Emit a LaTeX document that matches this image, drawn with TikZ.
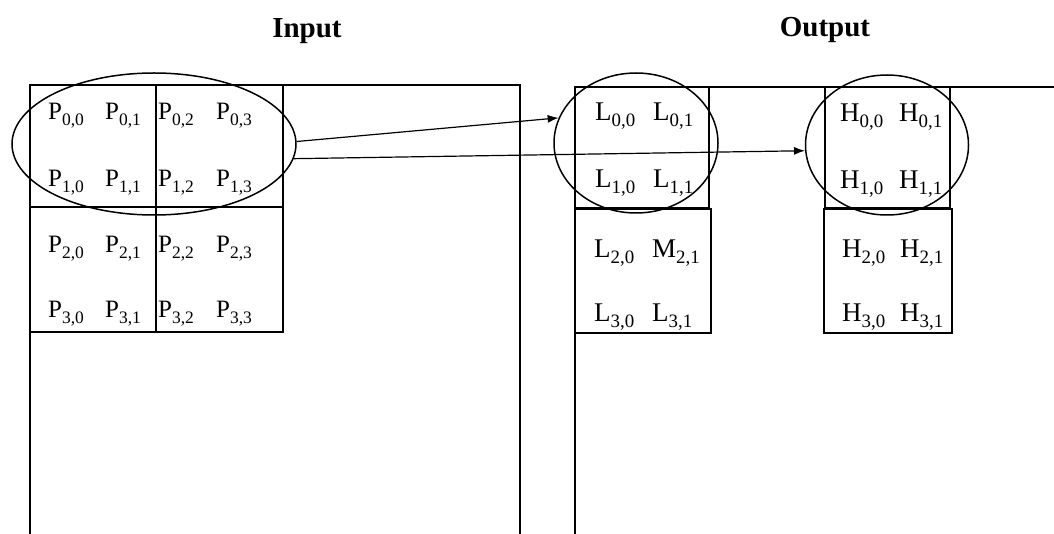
\documentclass[tikz,border=0pt]{standalone}
\usepackage{fontspec}
\setmainfont{Liberation Serif}
\usetikzlibrary{shapes.geometric,arrows.meta}

% coefficient label with a lowered, reduced index
\newcommand{\cf}[2]{#1\raisebox{-0.22em}{\scalebox{0.7}{#2}}}

\begin{document}
\begin{tikzpicture}[x=1pt,y=-1pt,
  frame/.style={line width=1.2pt},
  thickedge/.style={line width=2.6pt},
  pl/.style={anchor=base west,inner sep=0pt,font=\fontsize{25}{25}\selectfont},
  ol/.style={anchor=base west,inner sep=0pt,font=\fontsize{27}{27}\selectfont},
  title/.style={anchor=base,inner sep=0pt,font=\fontsize{29}{29}\selectfont\bfseries},
  ring/.style={ellipse,draw,line width=1.5pt,inner sep=0pt},
  link/.style={line width=1.2pt,-{Latex[length=11pt,width=8pt]}}]
\useasboundingbox (0,0) rectangle (1054,534);

% titles
\node[title] (tin)  at (307,38) {Input};
\node[title] (tout) at (825,37) {Output};

% input image frame
\draw[frame] (30,534) -- (30,85) -- (520,85) -- (520,534);
% input 4x4 block
\draw[frame] (156,85) -- (156,332);
\draw[frame] (30,207) -- (283,207);
\draw[frame] (283,85) -- (283,332) -- (30,332);
\draw[thickedge] (30,85) -- (30,332);

% output image frame
\draw[frame] (575,534) -- (575,87) -- (1054,87);
% low-pass blocks
\draw[frame] (575,87) rectangle (709,208);
\draw[frame] (575,209) rectangle (711,333);
\draw[thickedge] (575,87) -- (575,333);
% high-pass blocks
\draw[frame] (825,87) rectangle (950,208);
\draw[frame] (824,209) rectangle (952,333);

% input pixels
\foreach \r/\y in {0/120,1/187,2/253,3/318}{
  \node[pl] (p\r0) at (48,\y)  {\cf{P}{\r,0}};
  \node[pl] (p\r1) at (105,\y) {\cf{P}{\r,1}};
  \node[pl] (p\r2) at (158,\y) {\cf{P}{\r,2}};
  \node[pl] (p\r3) at (216,\y) {\cf{P}{\r,3}};
}

% low-pass coefficients
\node[ol] (l00) at (595,121) {\cf{L}{0,0}};
\node[ol] (l01) at (653,121) {\cf{L}{0,1}};
\node[ol] (l10) at (595,188) {\cf{L}{1,0}};
\node[ol] (l11) at (653,188) {\cf{L}{1,1}};
\node[ol] (l20) at (594,258) {\cf{L}{2,0}};
\node[ol] (m21) at (652,258) {\cf{M}{2,1}};
\node[ol] (l30) at (594,322) {\cf{L}{3,0}};
\node[ol] (l31) at (652,322) {\cf{L}{3,1}};

% high-pass coefficients
\node[ol] (h00) at (840,122) {\cf{H}{0,0}};
\node[ol] (h01) at (899,122) {\cf{H}{0,1}};
\node[ol] (h10) at (840,189) {\cf{H}{1,0}};
\node[ol] (h11) at (899,189) {\cf{H}{1,1}};
\node[ol] (h20) at (842,258) {\cf{H}{2,0}};
\node[ol] (h21) at (900,258) {\cf{H}{2,1}};
\node[ol] (h30) at (842,322) {\cf{H}{3,0}};
\node[ol] (h31) at (900,322) {\cf{H}{3,1}};

% groupings
\node[ring,minimum width=284pt,minimum height=142pt] (pe) at (154,144) {};
\node[ring,minimum width=164pt,minimum height=140pt] (le) at (636,143) {};
\node[ring,minimum width=163pt,minimum height=140pt] (he) at (887,145) {};

% transform arrows
\draw[link] (pe.1) -- (le.162);
\draw[link] (pe.-6) -- (he.184);
\end{tikzpicture}
\end{document}
